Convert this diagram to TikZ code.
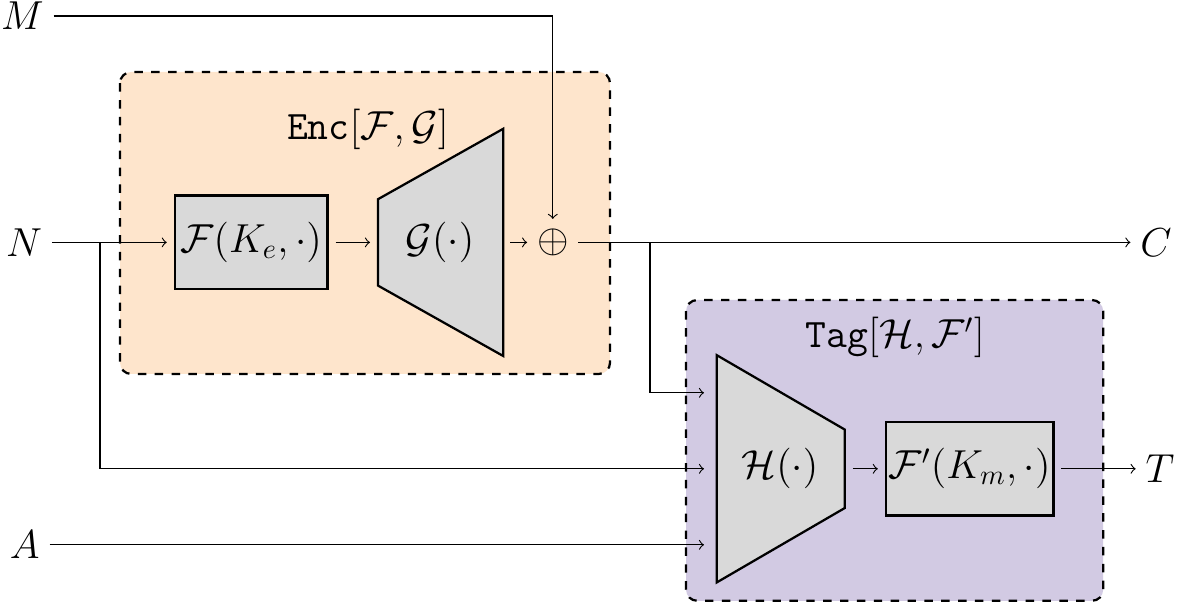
\documentclass[tikz,border=0pt]{standalone}
\usepackage{amsmath}
\usepackage{tikz}
\usetikzlibrary{calc}
\definecolor{encbg}{RGB}{254,229,204}
\definecolor{tagbg}{RGB}{210,202,227}

\begin{document}
\begin{tikzpicture}[every node/.style={font=\Large}]
% Block style
\tikzset{
    block/.style={draw, thick, fill=gray!30, outer sep=0.1cm,
        inner xsep=1pt, minimum height=1.17cm},
    trap/.style={draw, thick, fill=gray!30},
    frame/.style={draw, thick, dashed, rounded corners}
}
\useasboundingbox (0,0) rectangle (14.875,-7.6);
% Frames
\draw[frame, fill=encbg] (1.5,-0.9) rectangle (7.625,-4.675);
\draw[frame, fill=tagbg] (8.575,-3.75) rectangle (13.79,-7.51);
\node (enc) at (4.6,-1.62){\texttt{Enc}$[\mathcal{F},\mathcal{G}]$};
\node (tag) at (11.19,-4.22){\texttt{Tag}$[\mathcal{H},\mathcal{F}']$};
% Blocks
\node[block, minimum width=1.91cm] (F) at (3.14,-3.03){$\mathcal{F}(K_e,\cdot)$};
\draw[trap] (4.725,-2.49) -- (6.29,-1.61) -- (6.29,-4.45) -- (4.725,-3.57) -- cycle;
\node (G) at (5.5,-3.03){$\mathcal{G}(\cdot)$};
\node (xor) at (6.91,-3.03){$\oplus$};
\draw[trap] (8.96,-4.44) -- (10.56,-5.37) -- (10.56,-6.35) -- (8.96,-7.28) -- cycle;
\node (H) at (9.75,-5.86){$\mathcal{H}(\cdot)$};
\node[block, minimum width=2.09cm] (Fp) at (12.12,-5.86){$\mathcal{F}'(K_m,\cdot)$};
% Inputs and outputs
\node (M) at (0.28,-0.2){$M$};
\node (N) at (0.3,-3.03){$N$};
\node (A) at (0.31,-6.81){$A$};
\node (C) at (14.45,-3.03){$C$};
\node (T) at (14.5,-5.86){$T$};
\coordinate (Gin) at (4.625,-3.03);
\coordinate (Gout) at (6.375,-3.03);
\coordinate (Hout) at (10.66,-5.86);
\coordinate (Hin1) at (8.8,-4.91);
\coordinate (Hin2) at (8.8,-5.86);
\coordinate (Hin3) at (8.8,-6.81);
\coordinate (Nsplit) at (1.25,-3.03);
\coordinate (Csplit) at (8.125,-3.03);
% Connection
\draw[->] (N) -- (F);
\draw[->] (F) -- (Gin);
\draw[->] (Gout) -- (xor);
\draw[->] (M) -| (xor);
\draw[->] (xor) -- (C);
\draw[->] (Csplit) |- (Hin1);
\draw[->] (Nsplit) |- (Hin2);
\draw[->] (A) -- (Hin3);
\draw[->] (Hout) -- (Fp);
\draw[->] (Fp) -- (T);
\end{tikzpicture}
\end{document}
